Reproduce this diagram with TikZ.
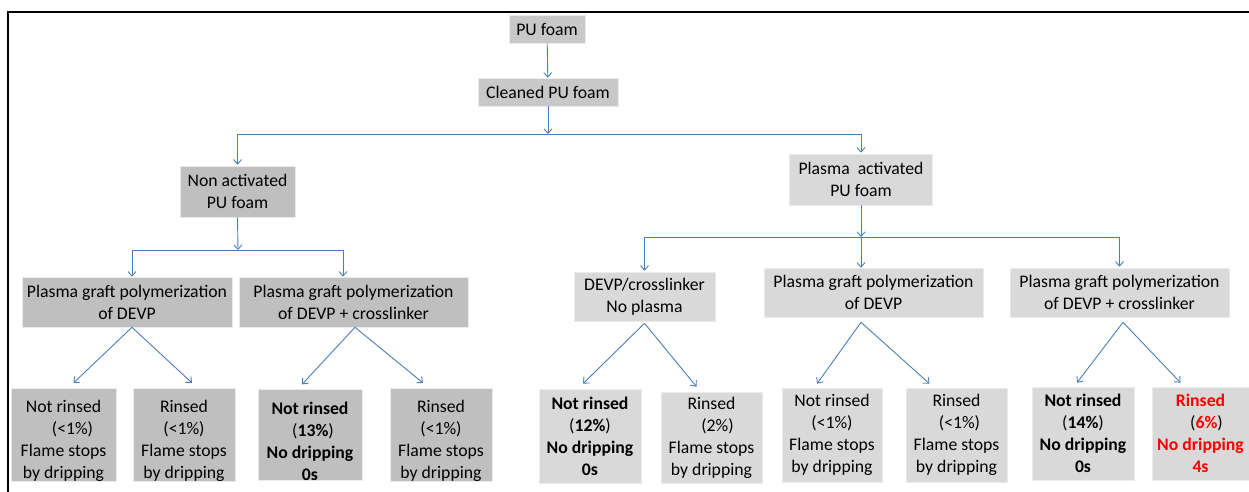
\documentclass[tikz,border=0pt]{standalone}
\usepackage{fontspec}
\setmainfont{Carlito}
\usetikzlibrary{arrows.meta,calc}
\definecolor{midgray}{HTML}{C8C8C8}
\definecolor{darkgray}{HTML}{BFBFBF}
\definecolor{lightgray}{HTML}{D9D9D9}
\definecolor{arrowblue}{HTML}{4A7EBB}
\definecolor{hired}{HTML}{FF0000}
\newcommand\lowstrut{\rule{0pt}{24.5pt}}
\tikzset{
  box/.style={inner sep=0pt, align=center, font=\fontsize{17.7}{22}\selectfont, draw=white!92!black, line width=0.6pt},
  mid/.style={box, fill=midgray},
  dark/.style={box, fill=darkgray},
  light/.style={box, fill=lightgray},
  sz/.style 2 args={minimum width=#1pt, minimum height=#2pt},
  arr/.style={draw=arrowblue, line width=0.9pt, -{Straight Barb[length=4.5pt,width=8pt,line width=0.9pt]}},
  conn/.style={draw=arrowblue, line width=0.9pt},
  frame/.style={draw=black, line width=1.8pt}
}
\begin{document}
\begin{tikzpicture}[x=1pt,y=-1pt]
\useasboundingbox (0,0) rectangle (1249,492);
\draw[frame] (1249,12) -- (8,12) -- (8,492);

% top
\node[mid, sz={76}{28}] (pu) at (547,29) {PU foam};
\node[mid, sz={140}{28}] (cl) at (548,92) {Cleaned PU foam};
\node[dark, sz={115}{51}] (non) at (237.5,191.5) {Non activated\\PU foam};
\node[light, sz={143}{51}] (pa) at (861,179.5) {Plasma\ \ activated\\PU foam};

% second level
\node[dark, sz={210}{50}] (pg1) at (127,302) {Plasma graft polymerization\\of DEVP};
\node[dark, sz={229}{50}] (pg2) at (353.5,302) {Plasma graft polymerization\\of DEVP + crosslinker};
\node[light, sz={141}{49}] (dc) at (644.5,296.5) {DEVP/crosslinker\\No plasma};
\node[light, sz={219}{49}] (pg3) at (873.5,292.5) {Plasma graft polymerization\\of DEVP};
\node[light, sz={219}{49}] (pg4) at (1119.5,292.5) {Plasma graft polymerization\\of DEVP + crosslinker};

% leaves
\node[dark, sz={105}{86}] (l1) at (63.5,435) {\lowstrut Not rinsed\\\hspace*{18pt}(<1\%)\\Flame stops\\by dripping};
\node[dark, sz={102}{86}] (l2) at (184,435) {\lowstrut Rinsed\\(<1\%)\\Flame stops\\by dripping};
\node[dark, sz={104}{86}] (l3) at (310,435) {\lowstrut\textbf{Not rinsed}\\\hspace*{6pt}(\textbf{13\%})\\\textbf{No dripping}\\\textbf{0s}};
\node[dark, sz={102}{86}] (l4) at (441,435) {\lowstrut Rinsed\\(<1\%)\\Flame stops\\by dripping};
\node[light, sz={102}{94}] (r1) at (590,436) {\textbf{Not rinsed}\\(\textbf{12\%})\\\textbf{No dripping}\\\textbf{0s}};
\node[light, sz={101}{91}] (r2) at (711.5,437.5) {Rinsed\\\hspace*{12pt}(2\%)\\Flame stops\\by dripping};
\node[light, sz={100}{94}] (r3) at (832,435) {Not rinsed\\(<1\%)\\Flame stops\\by dripping};
\node[light, sz={101}{94}] (r4) at (956.5,435) {Rinsed\\\hspace*{6pt}(<1\%)\\Flame stops\\by dripping};
\node[light, sz={102}{93}] (r5) at (1083,433.5) {\textbf{Not rinsed}\\(\textbf{14\%})\\\textbf{No dripping}\\\textbf{0s}};
\node[light, sz={97}{93}] (r6) at (1200.5,433.5) {\textcolor{hired}{\textbf{Rinsed}}\\\hspace*{12pt}(\textcolor{hired}{\textbf{6\%}})\\\textcolor{hired}{\textbf{No dripping}}\\\textcolor{hired}{\textbf{4s}}};

% junctions
\coordinate (j1) at (548,134);
\coordinate (j2) at (861,237);
\coordinate (j3) at (238,250);
\coordinate (b1) at (132,250);
\coordinate (b2) at (343,250);

% connectors
\draw[arr] (pu) -- (cl);
\draw[arr] (cl) -- (j1);
\draw[arr] (j1) -| ([yshift=1pt]non.north);
\draw[arr] (j1) -| ([yshift=1pt]pa.north);
\draw[arr] (non.south) -- (j3);
\draw[conn] (b1) -- (b2);
\draw[arr] (b1) -- (b1 |- pg1.north);
\draw[arr] (b2) -- (b2 |- pg2.north);
\draw[arr] (pa.south) -- (j2);
\draw[arr] (j2) -| ([yshift=1pt]dc.north);
\draw[arr] (j2) -| ([yshift=1pt]pg4.north);
\draw[arr] (j2) -- (j2 |- pg3.north);

% diagonal arrows
\draw[arr] ([xshift=5pt]pg1.south) -- ([xshift=10pt,yshift=5pt]l1.north);
\draw[arr] ([xshift=5pt]pg1.south) -- ([xshift=8pt,yshift=5pt]l2.north);
\draw[arr] ([xshift=1.5pt]pg2.south) -- ([xshift=-8pt,yshift=5pt]l3.north);
\draw[arr] ([xshift=1.5pt]pg2.south) -- ([xshift=-18pt,yshift=5pt]l4.north);
\draw[arr] ([yshift=-2pt]dc.south) -- ([xshift=-7pt,yshift=5pt]r1.north);
\draw[arr] ([yshift=-2pt]dc.south) -- ([xshift=-15pt,yshift=5pt]r2.north);
\draw[arr] ([xshift=-12.5pt,yshift=-5pt]pg3.south) -- ([xshift=-15pt,yshift=4pt]r3.north);
\draw[arr] ([xshift=-12.5pt,yshift=-5pt]pg3.south) -- ([xshift=-27pt,yshift=4pt]r4.north);
\draw[arr] ([xshift=3.5pt,yshift=-5pt]pg4.south) -- ([xshift=-6pt,yshift=4pt]r5.north);
\draw[arr] ([xshift=3.5pt,yshift=-5pt]pg4.south) -- ([xshift=-20pt,yshift=4pt]r6.north);
\end{tikzpicture}
\end{document}
